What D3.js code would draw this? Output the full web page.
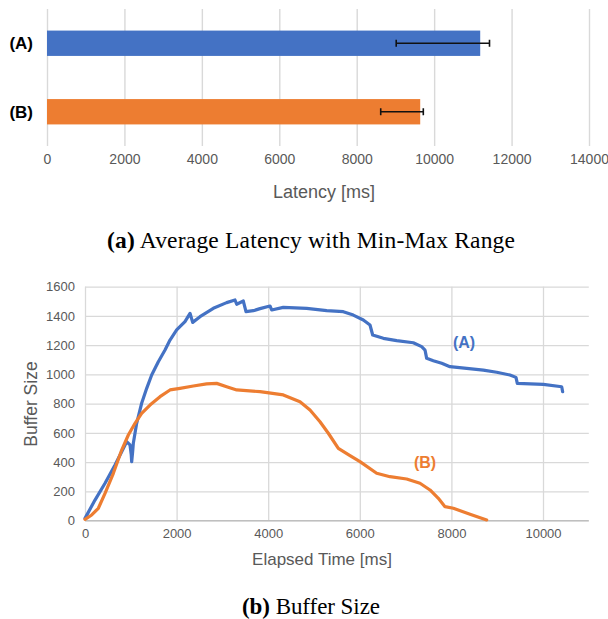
<!DOCTYPE html>
<html><head><meta charset="utf-8">
<script src="https://cdn.jsdelivr.net/npm/d3@7"></script>
<style>
html,body{margin:0;padding:0;background:#fff;}
svg{display:block;font-family:"Liberation Sans",Arial,sans-serif;}
</style></head>
<body><svg id="c" width="608" height="619"></svg>
<script>
// ---- Data: (a) latency ----
const categories = ["(A)", "(B)"];
const avgLatency = [11190, 9640];
const minLatency = [9020, 8620];
const maxLatency = [11430, 9720];
const latencyTicks = [0, 2000, 4000, 6000, 8000, 10000, 12000, 14000];
const barColors = ["#4472C4", "#ED7D31"];

// ---- Data: (b) buffer size ----
const timeA = [0, 218, 437, 655, 801, 910, 983, 1010, 1019, 1040, 1055, 1128, 1237, 1347, 1456, 1601, 1747, 1856, 2001, 2183, 2293, 2351, 2511, 2802, 3093, 3275, 3312, 3457, 3515, 3675, 3821, 4039, 4076, 4330, 4840, 5277, 5640, 5858, 6077, 6223, 6281, 6514, 6805, 7168, 7351, 7424, 7460, 7605, 7788, 7969, 8334, 8697, 8989, 9279, 9410, 9439, 10007, 10408, 10429];
const bufferA = [16, 141, 256, 381, 472, 540, 518, 450, 403, 470, 529, 666, 803, 905, 996, 1087, 1167, 1235, 1304, 1361, 1418, 1356, 1395, 1452, 1491, 1509, 1480, 1502, 1429, 1436, 1450, 1468, 1441, 1459, 1452, 1436, 1429, 1406, 1372, 1338, 1270, 1247, 1231, 1217, 1190, 1167, 1110, 1094, 1076, 1053, 1042, 1030, 1015, 996, 980, 939, 932, 916, 882];
const timeB = [0, 146, 291, 437, 619, 801, 946, 1092, 1237, 1419, 1638, 1856, 2074, 2365, 2656, 2875, 3093, 3312, 3821, 4330, 4694, 4913, 5131, 5313, 5531, 5786, 6004, 6368, 6659, 7023, 7314, 7533, 7715, 7860, 8042, 8406, 8770];
const bufferB = [9, 39, 85, 187, 324, 483, 586, 666, 734, 791, 848, 894, 905, 921, 935, 939, 916, 894, 882, 860, 814, 757, 677, 598, 495, 445, 404, 324, 301, 285, 256, 210, 153, 96, 85, 44, 5];
const timeTicks = [0, 2000, 4000, 6000, 8000, 10000];
const bufferTicks = [0, 200, 400, 600, 800, 1000, 1200, 1400, 1600];
const seriesNames = ["(A)", "(B)"];
const lineColors = ["#4472C4", "#ED7D31"];

const svg = d3.select("#c");
const grid = "#d9d9d9", txt = "#595959";
const sans = "Liberation Sans, Arial, sans-serif";
const serif = "Liberation Serif, Times New Roman, serif";

// ================= (a) =================
const xa = d3.scaleLinear().domain([0, 14000]).range([47, 589]);
const ya = d3.scaleBand().domain(categories).range([9, 146]).padding(0);
const ga = svg.append("g");
ga.append("g").attr("transform", "translate(0,146)")
  .call(d3.axisBottom(xa).tickValues(latencyTicks).tickSize(-137).tickFormat(d3.format("d")))
  .call(g => g.select(".domain").remove())
  .call(g => g.selectAll(".tick line").attr("stroke", grid).attr("stroke-width", 1.4))
  .call(g => g.selectAll(".tick text").attr("fill", txt).attr("font-size", 14).attr("dy", 0).attr("y", 18).attr("font-family", sans));

const bh = ya.bandwidth() * 0.37;
ga.selectAll("rect.bar").data(categories).join("rect")
  .attr("x", xa(0)).attr("y", d => ya(d) + ya.bandwidth() / 2 - bh / 2)
  .attr("width", (d, i) => xa(avgLatency[i]) - xa(0)).attr("height", bh)
  .attr("fill", (d, i) => barColors[i]);

categories.forEach((c, i) => {
  const cy = ya(c) + ya.bandwidth() / 2;
  const eb = ga.append("g").attr("stroke", "#111").attr("stroke-width", 1.6);
  eb.append("line").attr("x1", xa(minLatency[i])).attr("x2", xa(maxLatency[i])).attr("y1", cy).attr("y2", cy);
  eb.append("line").attr("x1", xa(minLatency[i])).attr("x2", xa(minLatency[i])).attr("y1", cy - 3.5).attr("y2", cy + 3.5);
  eb.append("line").attr("x1", xa(maxLatency[i])).attr("x2", xa(maxLatency[i])).attr("y1", cy - 3.5).attr("y2", cy + 3.5);
  ga.append("text").attr("x", 33).attr("y", cy).attr("dy", "0.35em").attr("text-anchor", "end")
    .attr("font-size", 17).attr("font-weight", "bold").attr("fill", "#000").text(c);
});
ga.append("text").attr("x", 324).attr("y", 192).attr("dy", "0.35em")
  .attr("text-anchor", "middle").attr("font-size", 18).attr("fill", txt).text("Latency [ms]");

// caption a
const capA = svg.append("text").attr("x", 311).attr("y", 248).attr("text-anchor", "middle")
  .attr("font-family", serif).attr("font-size", 23.5).attr("fill", "#000")
  .attr("textLength", 408).attr("lengthAdjust", "spacing");
capA.append("tspan").attr("font-weight", "bold").text("(a)");
capA.append("tspan").text(" Average Latency with Min-Max Range");

// ================= (b) =================
const xb = d3.scaleLinear().domain([0, 11000]).range([85, 588.8]);
const yb = d3.scaleLinear().domain([0, 1600]).range([520.7, 286.7]);
const gb = svg.append("g");
gb.append("g").attr("transform", "translate(85,0)")
  .call(d3.axisLeft(yb).tickValues(bufferTicks).tickSize(-(588.8 - 85)).tickPadding(10).tickFormat(d3.format("d")))
  .call(g => g.select(".domain").remove())
  .call(g => g.selectAll(".tick line").attr("stroke", grid).attr("stroke-width", 1.3))
  .call(g => g.selectAll(".tick text").attr("fill", txt).attr("font-size", 13).attr("font-family", sans));
gb.append("g").attr("transform", "translate(0,520.7)")
  .call(d3.axisBottom(xb).tickValues(timeTicks).tickSize(-(520.7 - 286.7)).tickPadding(8).tickFormat(d3.format("d")))
  .call(g => g.select(".domain").remove())
  .call(g => g.selectAll(".tick line").attr("stroke", grid).attr("stroke-width", 1.3))
  .call(g => g.selectAll(".tick text").attr("fill", txt).attr("font-size", 13).attr("font-family", sans));
gb.append("line").attr("x1", xb(0)).attr("x2", xb(11000)).attr("y1", yb(0)).attr("y2", yb(0))
  .attr("stroke", "#bfbfbf").attr("stroke-width", 1.3);

const line = d3.line().x(d => xb(d[0])).y(d => yb(d[1])).curve(d3.curveLinear);
const seriesData = [d3.zip(timeA, bufferA), d3.zip(timeB, bufferB)];
gb.selectAll("path.series").data(seriesData).join("path")
  .attr("d", line).attr("fill", "none")
  .attr("stroke", (d, i) => lineColors[i]).attr("stroke-width", 3.2)
  .attr("stroke-linejoin", "round").attr("stroke-linecap", "round");

gb.append("text").attr("x", 464).attr("y", 342).attr("dy", "0.35em").attr("text-anchor", "middle")
  .attr("font-size", 16).attr("font-weight", "bold").attr("fill", lineColors[0]).text(seriesNames[0]);
gb.append("text").attr("x", 425).attr("y", 462).attr("dy", "0.35em").attr("text-anchor", "middle")
  .attr("font-size", 16).attr("font-weight", "bold").attr("fill", lineColors[1]).text(seriesNames[1]);

gb.append("text").attr("transform", "translate(31,404) rotate(-90)").attr("dy", "0.35em")
  .attr("text-anchor", "middle").attr("font-size", 17.5).attr("fill", txt).text("Buffer Size");
gb.append("text").attr("x", 322).attr("y", 559).attr("dy", "0.35em")
  .attr("text-anchor", "middle").attr("font-size", 17).attr("fill", txt).text("Elapsed Time [ms]");

const capB = svg.append("text").attr("x", 311).attr("y", 614).attr("text-anchor", "middle")
  .attr("font-family", serif).attr("font-size", 23).attr("fill", "#000")
  .attr("textLength", 138).attr("lengthAdjust", "spacing");
capB.append("tspan").attr("font-weight", "bold").text("(b)");
capB.append("tspan").text(" Buffer Size");
</script></body></html>
